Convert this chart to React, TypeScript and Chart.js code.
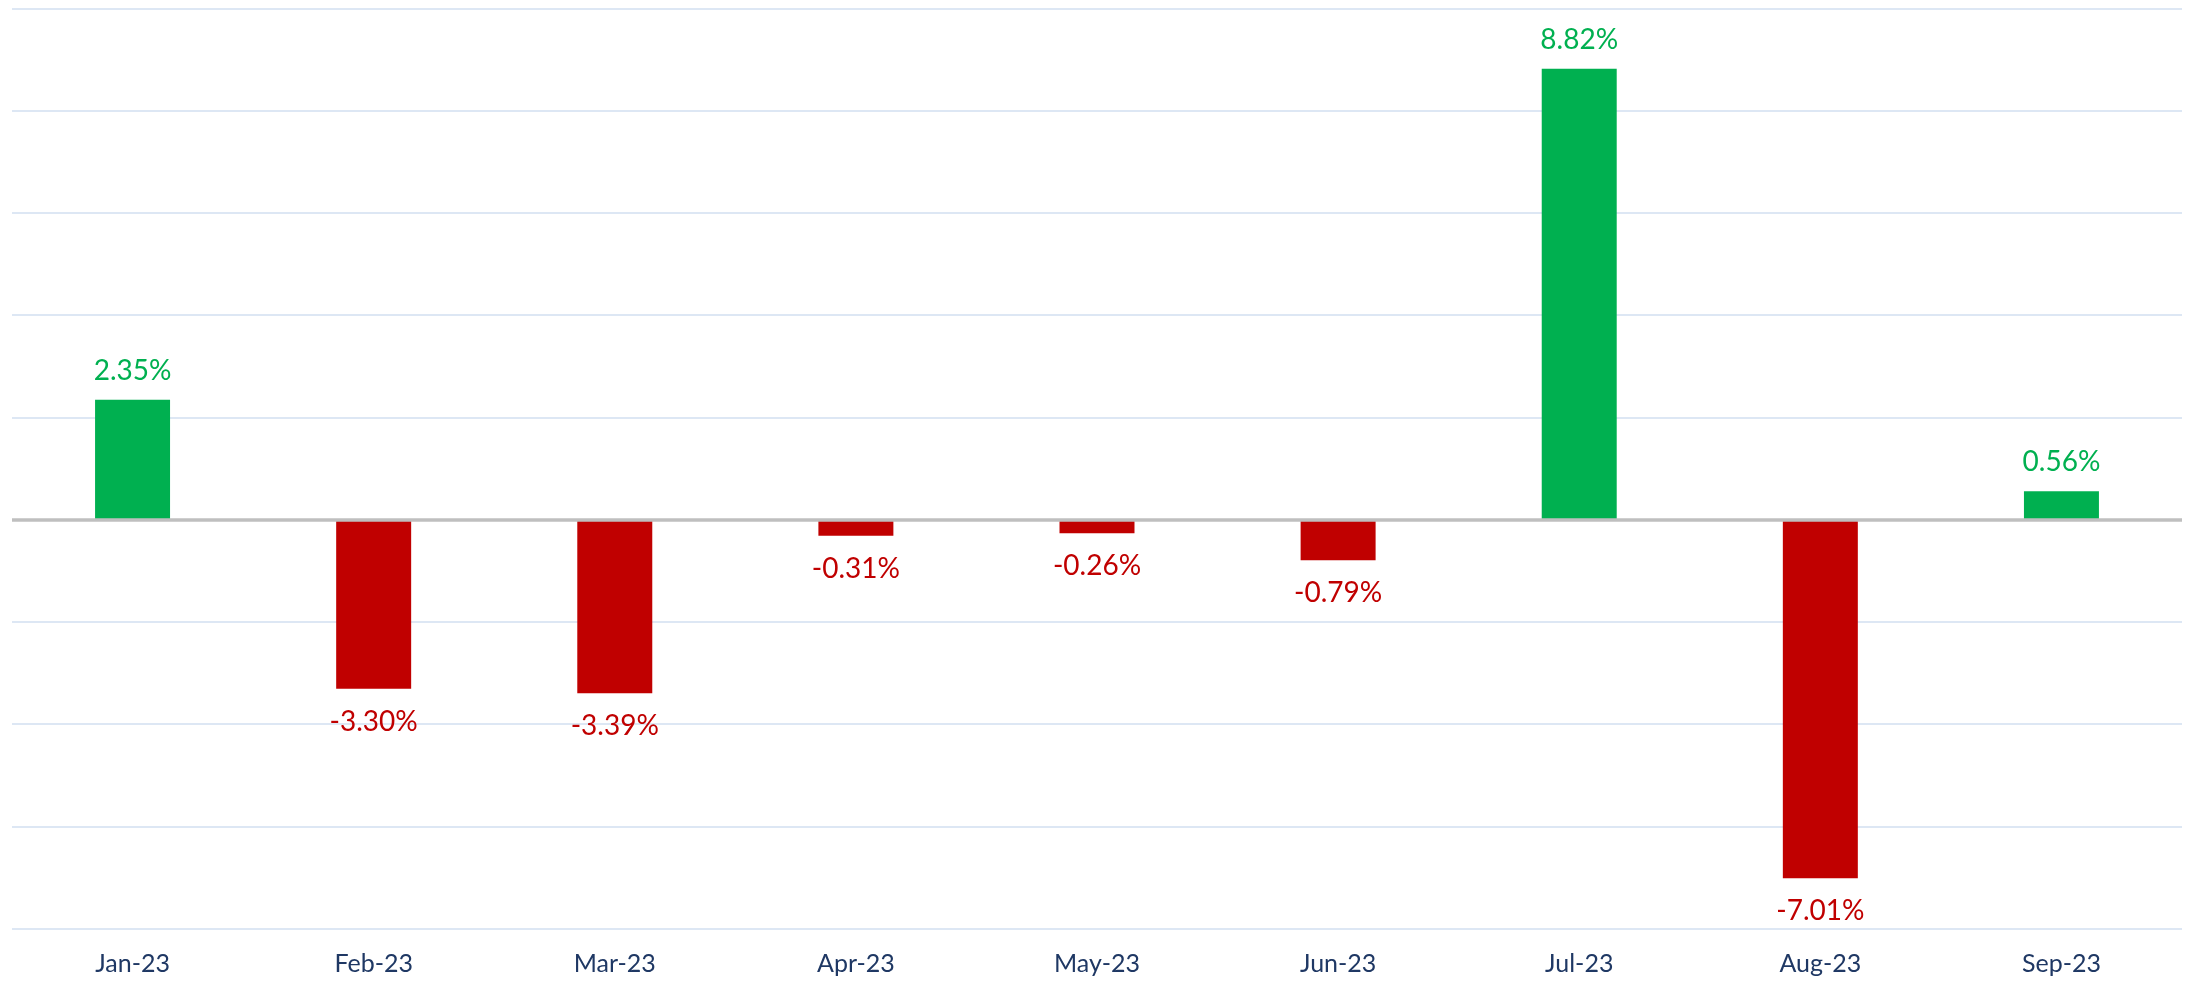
import React, { useEffect, useRef } from "react";
import { Chart, registerables } from "chart.js";

Chart.register(...registerables);

const categories = ["Jan-23", "Feb-23", "Mar-23", "Apr-23", "May-23", "Jun-23", "Jul-23", "Aug-23", "Sep-23"];
const returns = [2.35, -3.3, -3.39, -0.31, -0.26, -0.79, 8.82, -7.01, 0.56];
const yMin = -8;
const yMax = 10;
const yStep = 2;

const GREEN = "#00B050";
const RED = "#C00000";

const labelPlugin = {
  id: "valueLabels",
  afterDatasetsDraw(chart: any) {
    const { ctx } = chart;
    const yScale = chart.scales.y;
    const area = chart.chartArea;
    const zeroY = yScale.getPixelForValue(0);
    ctx.save();
    ctx.strokeStyle = "#BFBFBF";
    ctx.lineWidth = 3.5;
    ctx.beginPath();
    ctx.moveTo(area.left, zeroY);
    ctx.lineTo(area.right, zeroY);
    ctx.stroke();

    const meta = chart.getDatasetMeta(0);
    ctx.font = "28px Lato";
    ctx.textAlign = "center";
    ctx.textBaseline = "alphabetic";
    meta.data.forEach((bar: any, i: number) => {
      const v = returns[i];
      const txt = v.toFixed(2) + "%";
      ctx.fillStyle = v >= 0 ? GREEN : RED;
      const y = v >= 0 ? bar.y - 20 : bar.y + 42;
      ctx.fillText(txt, bar.x, y);
    });
    ctx.restore();
  },
};

export default function App() {
  const ref = useRef<HTMLCanvasElement>(null);
  useEffect(() => {
    if (!ref.current) return;
    const chart = new Chart(ref.current, {
      type: "bar",
      data: {
        labels: categories,
        datasets: [
          {
            data: returns,
            backgroundColor: returns.map((v) => (v >= 0 ? GREEN : RED)),
            borderWidth: 0,
            categoryPercentage: 1,
            barPercentage: 0.311,
          },
        ],
      },
      options: {
        responsive: false,
        animation: false,
        layout: { padding: { left: 12, right: 8, top: 8.5, bottom: 0 } },
        plugins: { legend: { display: false }, tooltip: { enabled: false } },
        scales: {
          x: {
            grid: { display: false, drawTicks: false },
            border: { display: false },
            ticks: {
              font: { family: "Lato", size: 25 },
              color: "#1F3864",
              padding: 20,
            },
            afterFit: (scale: any) => {
              scale.height = 58;
            },
          },
          y: {
            min: yMin,
            max: yMax,
            ticks: { display: false, stepSize: yStep },
            border: { display: false },
            grid: { color: "#DDE7F4", lineWidth: 2, drawTicks: false },
          },
        },
      },
      plugins: [labelPlugin],
    });
    return () => chart.destroy();
  }, []);
  return (
    <div style={{ position: "absolute", left: 0, top: 0, width: 2190, height: 987, background: "#fff" }}>
      <canvas ref={ref} width={2190} height={987} style={{ width: 2190, height: 987 }} />
    </div>
  );
}
